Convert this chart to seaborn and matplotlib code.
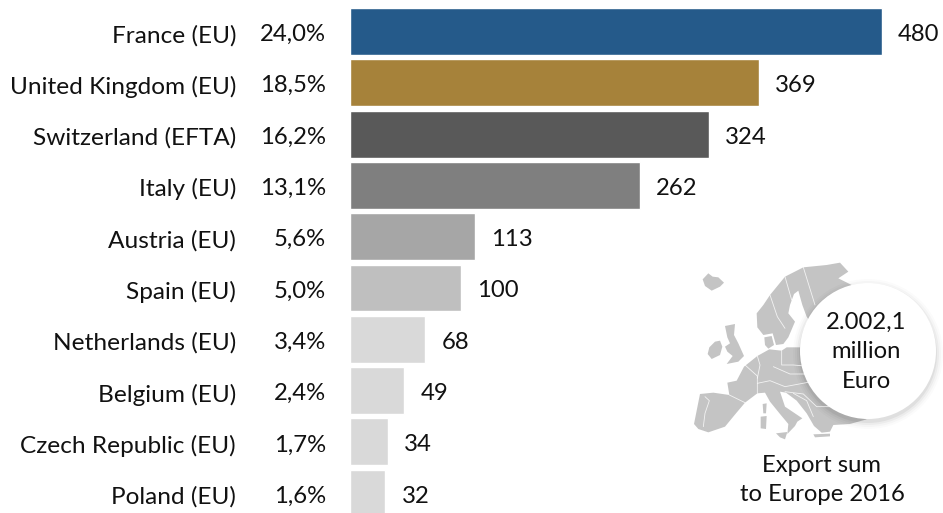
import pandas as pd
import matplotlib.pyplot as plt
import seaborn as sns
from matplotlib.patches import Circle, Polygon
from matplotlib.transforms import ScaledTranslation

sns.set_style('white')
plt.rcParams['font.family'] = ['Lato', 'DejaVu Sans']

countries = ['France (EU)', 'United Kingdom (EU)', 'Switzerland (EFTA)', 'Italy (EU)', 'Austria (EU)',
             'Spain (EU)', 'Netherlands (EU)', 'Belgium (EU)', 'Czech Republic (EU)', 'Poland (EU)']
shares = ['24,0%', '18,5%', '16,2%', '13,1%', '5,6%', '5,0%', '3,4%', '2,4%', '1,7%', '1,6%']
exports = [480, 369, 324, 262, 113, 100, 68, 49, 34, 32]
colors = ['#255A8A', '#A6823A', '#595959', '#7F7F7F', '#A6A6A6', '#BFBFBF',
          '#D9D9D9', '#D9D9D9', '#D9D9D9', '#D9D9D9']

df = pd.DataFrame({'country': countries, 'export': exports})
font_size = 17.2

fig = plt.figure(figsize=(9.43, 5.13), dpi=100)
ax = fig.add_axes([350 / 943, 0, 593 / 943, 1])

sns.barplot(data=df, y='country', x='export', hue='country', palette=colors, legend=False,
            width=0.916, saturation=1, ax=ax)
ax.set_xlim(0, 593 / 1.108)
ax.set_ylim(9.386, -0.614)
ax.set_xlabel('')
ax.set_ylabel('')
ax.set_xticks([])
ax.tick_params(axis='y', length=0, pad=82, labelsize=17.6, labelcolor='#111111')
sns.despine(ax=ax, left=True, bottom=True)
ax.set_facecolor('none')

# names sit a little lower than the bar centres
for label in ax.get_yticklabels():
    label.set_transform(label.get_transform() + ScaledTranslation(0, -2 / 100, fig.dpi_scale_trans))

for i, (share, val) in enumerate(zip(shares, exports)):
    ax.annotate(share, (0, i), xytext=(-24, -3), textcoords='offset pixels', ha='right', va='center', fontsize=font_size, color='#111111')
    ax.annotate(str(val), (val, i), xytext=(16, -3), textcoords='offset pixels', ha='left', va='center', fontsize=font_size, color='#111111')

ov = fig.add_axes([0, 0, 1, 1], zorder=5)
ov.set_xlim(0, 943)
ov.set_ylim(513, 0)
ov.axis('off')


def px(points):
    return [(670 + x / 3, 250 + y / 3) for x, y in points]


map_shapes = [
    # iceland, ireland, britain
    [(98, 88), (115, 70), (128, 80), (145, 82), (162, 98), (150, 110), (125, 122), (105, 108)],
    [(118, 292), (135, 275), (150, 272), (157, 290), (150, 315), (125, 327), (113, 312)],
    [(165, 228), (195, 222), (192, 255), (205, 280), (222, 318), (205, 335), (170, 342), (188, 318), (172, 305), (165, 290), (180, 280), (172, 262)],
    # scandinavia + finland + baltics
    [(260, 190), (280, 165), (300, 135), (345, 80), (400, 52), (470, 45), (510, 38), (535, 65), (505, 85), (545, 105), (520, 180),
     (450, 228), (425, 222), (410, 200), (397, 165), (385, 122), (372, 132), (360, 165), (355, 190), (375, 215), (355, 262), (340, 282),
     (318, 285), (308, 250), (280, 255), (262, 232)],
    # denmark
    [(283, 262), (305, 258), (312, 285), (295, 296), (285, 285)],
    # mainland with spain, france, germany, poland, balkans, turkey
    [(72, 522), (90, 432), (130, 428), (178, 435), (172, 398), (200, 392), (222, 350), (262, 318), (298, 298), (335, 302), (350, 292),
     (392, 292), (398, 255), (440, 235), (540, 240), (545, 480), (590, 508), (540, 522), (490, 525), (480, 545), (455, 548), (432, 528), (410, 490),
     (380, 452), (348, 428), (330, 425), (345, 470), (397, 505), (382, 515), (375, 528), (352, 552), (355, 522), (330, 492), (300, 455), (285, 428),
     (262, 430), (225, 458), (198, 490), (165, 530), (115, 547), (85, 537)],
    # corsica, sardinia, sicily, crete
    [(278, 462), (290, 460), (288, 490), (280, 490)],
    [(272, 500), (290, 498), (288, 537), (272, 535)],
    [(318, 550), (352, 546), (345, 568), (330, 562)],
    [(430, 553), (480, 551), (480, 559), (435, 562)],
]
map_borders = [
    [(105, 440), (118, 452), (105, 490), (100, 530)],
    [(178, 435), (225, 458)],
    [(225, 345), (262, 378), (262, 430)],
    [(262, 318), (270, 345), (262, 385)],
    [(262, 400), (300, 392), (345, 410), (425, 395)],
    [(335, 302), (335, 345), (370, 345), (425, 350)],
    [(310, 350), (360, 372), (425, 372)],
    [(345, 425), (400, 432), (440, 470), (500, 470)],
    [(370, 430), (410, 452), (430, 500)],
    [(345, 80), (365, 150)],
    [(400, 52), (435, 165)],
    [(300, 135), (322, 200), (345, 235)],
]
for shape in map_shapes:
    ov.add_patch(Polygon(px(shape), closed=True, fc='#C4C4C4', ec='none'))
for line in map_borders:
    xs, ys = zip(*px(line))
    ov.plot(xs, ys, color='white', lw=0.6, alpha=0.8)

# soft shadow under the circle
for grow, alpha in [(7, 0.015), (5, 0.025), (3, 0.035), (1, 0.05)]:
    ov.add_patch(Circle((868, 354), 68 + grow, fc='black', ec='none', alpha=alpha))
ov.add_patch(Circle((868, 351), 68, fc='white', ec='none'))

ov.text(866, 352, '2.002,1\nmillion\nEuro', ha='center', va='center', fontsize=font_size, linespacing=1.5, color='#111111')
ov.text(822, 480, 'Export sum\nto Europe 2016', ha='center', va='center', fontsize=font_size, linespacing=1.5, color='#111111')

plt.savefig('out.png', dpi=100)
